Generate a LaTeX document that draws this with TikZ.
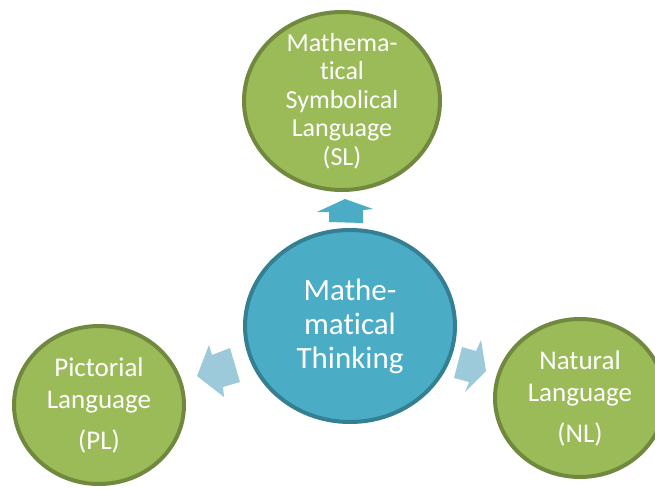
\documentclass[tikz,border=0pt]{standalone}
\usepackage{fontspec}
\setmainfont{Carlito}[Ligatures=NoCommon]
\usetikzlibrary{shapes.geometric}
\definecolor{ballgreen}{HTML}{9BBB59}
\definecolor{ballgreendark}{HTML}{71893F}
\definecolor{ballteal}{HTML}{4BACC6}
\definecolor{balltealdark}{HTML}{357F93}
\definecolor{arrowlight}{HTML}{9CCADA}
\tikzset{
  ball/.style={ellipse, line width=4pt, inner sep=-40pt, text=white, align=center},
  greenball/.style={ball, draw=ballgreendark, fill=ballgreen},
  tealball/.style={ball, draw=balltealdark, fill=ballteal},
  sidefont/.style={font=\fontsize{27}{32}\selectfont}
}
\begin{document}
\begin{tikzpicture}[x=1pt, y=-1pt]
        \clip (0,0) rectangle (655,489);
        % the four balls
        \node[greenball, minimum width=196pt, minimum height=178pt, font=\fontsize{26}{28.5}\selectfont] (SL) at (342,101) {Mathema-\\tical\\Symbolical\\Language\\(SL)};
        \node[tealball, minimum width=210pt, minimum height=192pt, font=\fontsize{31}{34}\selectfont] (MT) at (350,326) {Mathe-\\matical\\Thinking};
        \node[greenball, minimum width=170pt, minimum height=158pt, sidefont] (PL) at (99,405) {Pictorial\\Language\\[9pt](PL)};
        \node[greenball, minimum width=170pt, minimum height=158pt, sidefont] (NL) at (580,398) {Natural\\Language\\[9pt](NL)};
        % block arrows
        \fill[ballteal] (345,199) -- (373,209) -- (363,210) -- (363,223) -- (329,222) -- (329,212) -- (317,212) -- cycle;
        \fill[arrowlight] (197,376) -- (209,345) -- (212,355) -- (230,348) -- (240,382) -- (223,387) -- (224,397) -- cycle;
        \fill[arrowlight] (486,371) -- (465,392) -- (469,382) -- (454,378) -- (462,347) -- (476,351) -- (481,340) -- cycle;
\end{tikzpicture}
\end{document}
